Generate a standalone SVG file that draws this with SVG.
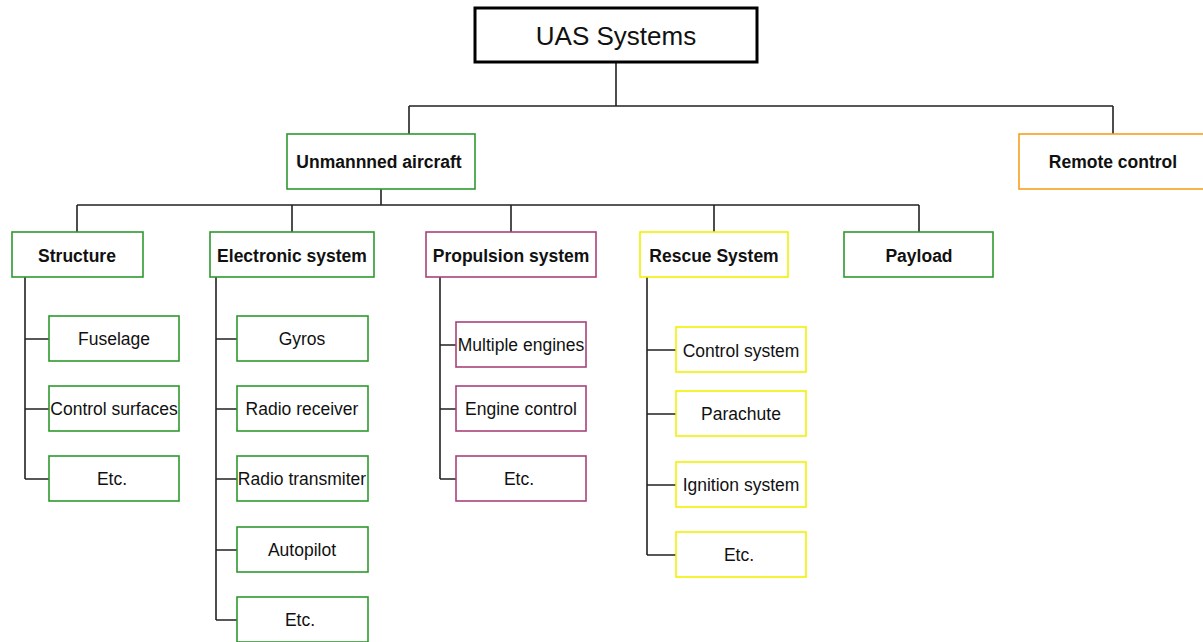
<svg xmlns="http://www.w3.org/2000/svg" width="1203" height="642" viewBox="0 0 1203 642">
  <style>
    .box { fill: #ffffff; stroke-width: 1.6; }
    .root { fill: #ffffff; stroke: #000000; stroke-width: 3; }
    .green { stroke: #2e9a2e; }
    .purple { stroke: #a8437a; }
    .yellow { stroke: #f2f200; }
    .orange { stroke: #f5a020; }
    .lbl { font-family: "Liberation Sans", Arial, sans-serif; font-size: 17.5px; fill: #111111; text-anchor: middle; dominant-baseline: central; }
    .bold { font-weight: bold; }
    .title { font-family: "Liberation Sans", Arial, sans-serif; font-size: 26px; fill: #111111; text-anchor: middle; dominant-baseline: central; }
    .wire { fill: none; stroke: #222222; stroke-width: 1.6; }
  </style>

  <!-- connectors -->
  <g id="connectors" class="wire">
    <path d="M616 62 V106 M409 106 H1113 M409 106 V134 M1113 106 V134"/>
    <path d="M381 189 V205 M77 205 H919 M77 205 V232 M292 205 V232 M511 205 V232 M714 205 V232 M919 205 V232"/>
    <!-- Structure branch -->
    <path d="M25 277 V479 M25 339 H49 M25 409 H49 M25 479 H49"/>
    <!-- Electronic system branch -->
    <path d="M216 277 V620 M216 339 H237 M216 409 H237 M216 479 H237 M216 550 H237 M216 620 H237"/>
    <!-- Propulsion system branch -->
    <path d="M440 277 V479 M440 345 H456 M440 409 H456 M440 479 H456"/>
    <!-- Rescue system branch -->
    <path d="M647 277 V555 M647 350 H676 M647 414 H676 M647 485 H676 M647 555 H676"/>
  </g>

  <g id="uas-systems">
    <rect class="root" x="475" y="8" width="282" height="54"/>
    <text class="title" x="616" y="36">UAS Systems</text>
  </g>

  <g id="unmanned-aircraft">
    <rect class="box green" x="287" y="134" width="188" height="55"/>
    <text class="lbl bold" x="379" y="162">Unmannned aircraft</text>
  </g>

  <g id="remote-control">
    <rect class="box orange" x="1019" y="134" width="190" height="55"/>
    <text class="lbl bold" x="1113" y="162">Remote control</text>
  </g>

  <g id="structure">
    <rect class="box green" x="12" y="232" width="131" height="45"/>
    <text class="lbl bold" x="77" y="256">Structure</text>
  </g>
  <g id="electronic-system">
    <rect class="box green" x="210" y="232" width="164" height="45"/>
    <text class="lbl bold" x="292" y="256">Electronic system</text>
  </g>
  <g id="propulsion-system">
    <rect class="box purple" x="426" y="232" width="170" height="45"/>
    <text class="lbl bold" x="511" y="256">Propulsion system</text>
  </g>
  <g id="rescue-system">
    <rect class="box yellow" x="640" y="232" width="148" height="45"/>
    <text class="lbl bold" x="714" y="256">Rescue System</text>
  </g>
  <g id="payload">
    <rect class="box green" x="844" y="232" width="149" height="45"/>
    <text class="lbl bold" x="919" y="256">Payload</text>
  </g>

  <!-- Structure children -->
  <g id="fuselage">
    <rect class="box green" x="49" y="316" width="130" height="45"/>
    <text class="lbl" x="114" y="339">Fuselage</text>
  </g>
  <g id="control-surfaces">
    <rect class="box green" x="49" y="386" width="130" height="45"/>
    <text class="lbl" x="114" y="409">Control surfaces</text>
  </g>
  <g id="structure-etc">
    <rect class="box green" x="49" y="456" width="130" height="45"/>
    <text class="lbl" x="112" y="479">Etc.</text>
  </g>

  <!-- Electronic system children -->
  <g id="gyros">
    <rect class="box green" x="237" y="316" width="131" height="45"/>
    <text class="lbl" x="302" y="339">Gyros</text>
  </g>
  <g id="radio-receiver">
    <rect class="box green" x="237" y="386" width="131" height="45"/>
    <text class="lbl" x="302" y="409">Radio receiver</text>
  </g>
  <g id="radio-transmiter">
    <rect class="box green" x="237" y="456" width="131" height="45"/>
    <text class="lbl" x="302" y="479">Radio transmiter</text>
  </g>
  <g id="autopilot">
    <rect class="box green" x="237" y="527" width="131" height="45"/>
    <text class="lbl" x="302" y="550">Autopilot</text>
  </g>
  <g id="electronic-etc">
    <rect class="box green" x="237" y="597" width="131" height="45"/>
    <text class="lbl" x="300" y="620">Etc.</text>
  </g>

  <!-- Propulsion system children -->
  <g id="multiple-engines">
    <rect class="box purple" x="456" y="322" width="130" height="45"/>
    <text class="lbl" x="521" y="345">Multiple engines</text>
  </g>
  <g id="engine-control">
    <rect class="box purple" x="456" y="386" width="130" height="45"/>
    <text class="lbl" x="521" y="409">Engine control</text>
  </g>
  <g id="propulsion-etc">
    <rect class="box purple" x="456" y="456" width="130" height="45"/>
    <text class="lbl" x="519" y="479">Etc.</text>
  </g>

  <!-- Rescue system children -->
  <g id="control-system">
    <rect class="box yellow" x="676" y="327" width="130" height="45"/>
    <text class="lbl" x="741" y="351">Control system</text>
  </g>
  <g id="parachute">
    <rect class="box yellow" x="676" y="391" width="130" height="45"/>
    <text class="lbl" x="741" y="414">Parachute</text>
  </g>
  <g id="ignition-system">
    <rect class="box yellow" x="676" y="462" width="130" height="45"/>
    <text class="lbl" x="741" y="485">Ignition system</text>
  </g>
  <g id="rescue-etc">
    <rect class="box yellow" x="676" y="532" width="130" height="45"/>
    <text class="lbl" x="739" y="555">Etc.</text>
  </g>
</svg>
